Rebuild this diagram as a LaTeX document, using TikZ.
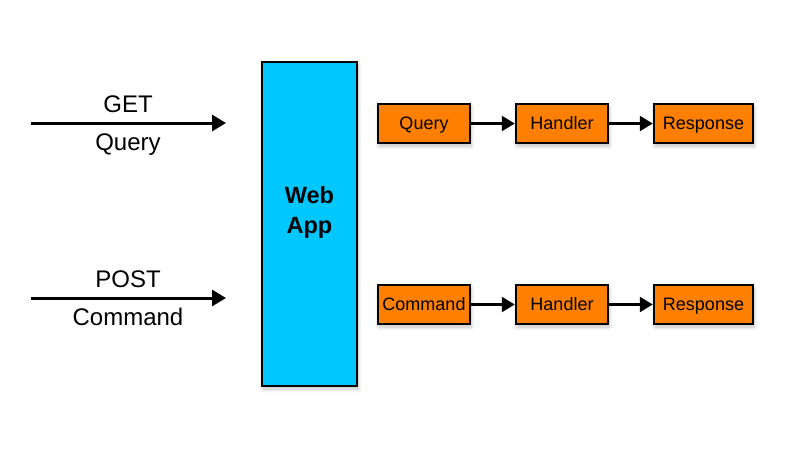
\documentclass[tikz,border=0pt]{standalone}
\usepackage{fontspec}
\setmainfont{Liberation Sans}
\usetikzlibrary{arrows.meta,shadows.blur}
\definecolor{appblue}{HTML}{00C8FF}
\definecolor{steporange}{HTML}{FF8000}
\tikzset{
  px/.style={x=1pt,y=-1pt},
  softshadow/.style={blur shadow={shadow xshift=1pt,shadow yshift=-3pt,shadow blur steps=8,shadow blur radius=4pt,shadow opacity=25}},
  stepbox/.style={draw=black,line width=2.5pt,fill=steporange,minimum width=92pt,minimum height=39pt,inner sep=0pt,font=\fontsize{18}{20}\selectfont,text height=12.9pt,text depth=0pt,softshadow},
  appbox/.style={draw=black,line width=2.5pt,fill=appblue,minimum width=95pt,minimum height=324pt,inner sep=0pt,softshadow},
  flow/.style={line width=3pt,-{Triangle[length=14pt,width=16pt]}},
  link/.style={line width=2.5pt,-{Triangle[length=13pt,width=15pt]}},
  lbl/.style={font=\fontsize{24}{27}\selectfont,inner sep=0pt,anchor=base},
  applbl/.style={font=\bfseries\fontsize{23.5}{26}\selectfont,inner sep=0pt,anchor=base}
}
\begin{document}
\begin{tikzpicture}[px]
\useasboundingbox (0,0) rectangle (794,448);
\node[appbox] (app) at (309.5,224) {};
\node[applbl] (web) at (309.5,203) {Web};
\node[applbl] (appt) at (309.5,233) {App};
\node[stepbox] (q) at (424,123.5) {Query};
\node[stepbox] (h1) at (562,123.5) {Handler};
\node[stepbox,minimum width=99pt] (r1) at (703.5,123.5) {Response};
\node[stepbox] (c) at (424,304.5) {Command};
\node[stepbox] (h2) at (562,304.5) {Handler};
\node[stepbox,minimum width=99pt] (r2) at (703.5,304.5) {Response};
\draw[link] (q) -- (h1);
\draw[link] (h1) -- (r1);
\draw[link] (c) -- (h2);
\draw[link] (h2) -- (r2);
\coordinate (g0) at (31,123);
\coordinate (g1) at (226,123);
\coordinate (p0) at (31,298);
\coordinate (p1) at (226,298);
\draw[flow] (g0) -- (g1);
\draw[flow] (p0) -- (p1);
\node[lbl] (get) at (128,112.5) {GET};
\node[lbl] (getq) at (128,150) {Query};
\node[lbl] (post) at (128,287) {POST};
\node[lbl] (postc) at (128,325) {Command};
\end{tikzpicture}
\end{document}
